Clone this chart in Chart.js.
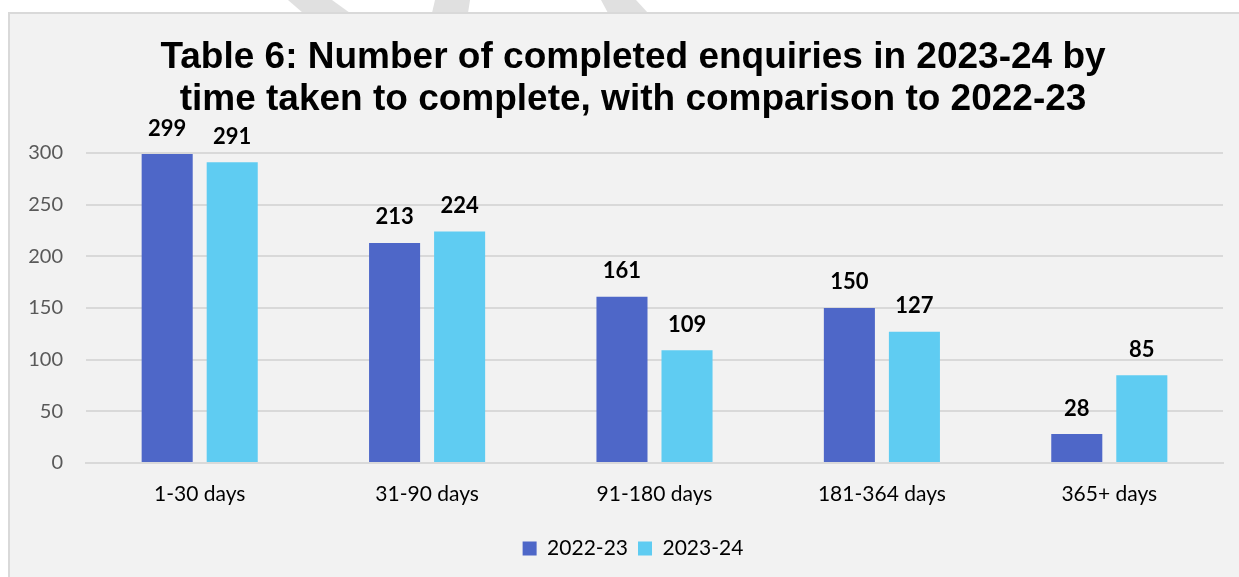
<!DOCTYPE html>
<html>
<head>
<meta charset="utf-8">
<script src="https://cdn.jsdelivr.net/npm/chart.js@4.4.1/dist/chart.umd.min.js"></script>
<style>
  html, body { margin: 0; padding: 0; background: #ffffff; }
  #c { display: block; }
</style>
</head>
<body>
<canvas id="c" width="1239" height="577"></canvas>
<script>
const categories = ['1-30 days', '31-90 days', '91-180 days', '181-364 days', '365+ days'];
const seriesNames = ['2022-23', '2023-24'];
const values2022 = [299, 213, 161, 150, 28];
const values2023 = [291, 224, 109, 127, 85];
const yTicks = [0, 50, 100, 150, 200, 250, 300];
const titleLines = ['Table 6: Number of completed enquiries in 2023-24 by', 'time taken to complete, with comparison to 2022-23'];

const backgroundPlugin = {
  id: 'bgBox',
  beforeDraw(chart) {
    const ctx = chart.ctx;
    const W = chart.width, H = chart.height;
    ctx.save();
    ctx.fillStyle = '#ffffff';
    ctx.fillRect(0, 0, W, H);
    ctx.fillStyle = '#e0e0e0';
    const polys = [
      [[288,0],[332,0],[350,13],[303,13]],
      [[435,0],[470,0],[468,13],[432,13]],
      [[601,0],[636,0],[648,13],[608,13]]
    ];
    polys.forEach(p => {
      ctx.beginPath();
      ctx.moveTo(p[0][0], p[0][1]);
      for (let i = 1; i < p.length; i++) ctx.lineTo(p[i][0], p[i][1]);
      ctx.closePath();
      ctx.fill();
    });
    ctx.fillStyle = '#f2f2f2';
    ctx.fillRect(9, 13, W - 9, H - 13);
    ctx.fillStyle = '#d9d9d9';
    ctx.fillRect(8, 12, W - 8, 2);
    ctx.fillRect(8, 12, 2, H - 12);
    ctx.restore();
  }
};

const valueLabelPlugin = {
  id: 'valueLabels',
  afterDatasetsDraw(chart) {
    const ctx = chart.ctx;
    ctx.save();
    ctx.font = 'bold 22px Lato';
    ctx.fillStyle = '#000000';
    ctx.textAlign = 'center';
    ctx.textBaseline = 'alphabetic';
    chart.data.datasets.forEach((ds, i) => {
      const meta = chart.getDatasetMeta(i);
      meta.data.forEach((bar, j) => {
        ctx.fillText(String(ds.data[j]), bar.x, bar.y - 18.5);
      });
    });
    ctx.restore();
  }
};

// centre title and legend on the (wider) chart box, as in the original
const centreShiftPlugin = {
  id: 'centreShift',
  afterLayout(chart) {
    const d = 16.5;
    [chart.titleBlock, chart.legend].forEach(b => {
      if (b) { b.left += d; b.right += d; }
    });
  }
};

new Chart(document.getElementById('c'), {
  type: 'bar',
  data: {
    labels: categories,
    datasets: [
      { label: seriesNames[0], data: values2022, backgroundColor: '#4E67C8', borderWidth: 0 },
      { label: seriesNames[1], data: values2023, backgroundColor: '#5FCCF2', borderWidth: 0 }
    ]
  },
  options: {
    responsive: false,
    animation: false,
    devicePixelRatio: 1,
    categoryPercentage: 0.572,
    barPercentage: 0.785,
    layout: { padding: { top: 20, left: 10, right: 16, bottom: 8 } },
    plugins: {
      title: {
        display: true,
        text: titleLines,
        color: '#000000',
        font: { family: '"Liberation Sans", Arial', size: 37, weight: 'bold', lineHeight: 1.135 },
        padding: { top: 17, bottom: 32 }
      },
      legend: {
        display: true,
        position: 'bottom',
        labels: {
          boxWidth: 14,
          boxHeight: 14,
          padding: 10,
          color: '#000000',
          font: { family: 'Lato', size: 21 }
        }
      },
      tooltip: { enabled: false }
    },
    scales: {
      x: {
        grid: { display: false, drawTicks: false },
        border: { display: true, color: '#d9d9d9', width: 2 },
        ticks: { color: '#000000', padding: 19, font: { family: 'Lato', size: 21 } },
        afterFit(s) { s.height = 65; }
      },
      y: {
        min: yTicks[0],
        max: yTicks[yTicks.length - 1],
        afterBuildTicks(s) { s.ticks = yTicks.map(v => ({ value: v })); },
        grid: { color: '#d9d9d9', lineWidth: 2, drawTicks: false },
        border: { display: false },
        ticks: { color: '#595959', padding: 23, font: { family: 'Lato', size: 20 } },
        afterFit(s) { s.width = 76; }
      }
    }
  },
  plugins: [backgroundPlugin, valueLabelPlugin, centreShiftPlugin]
});
</script>
</body>
</html>
